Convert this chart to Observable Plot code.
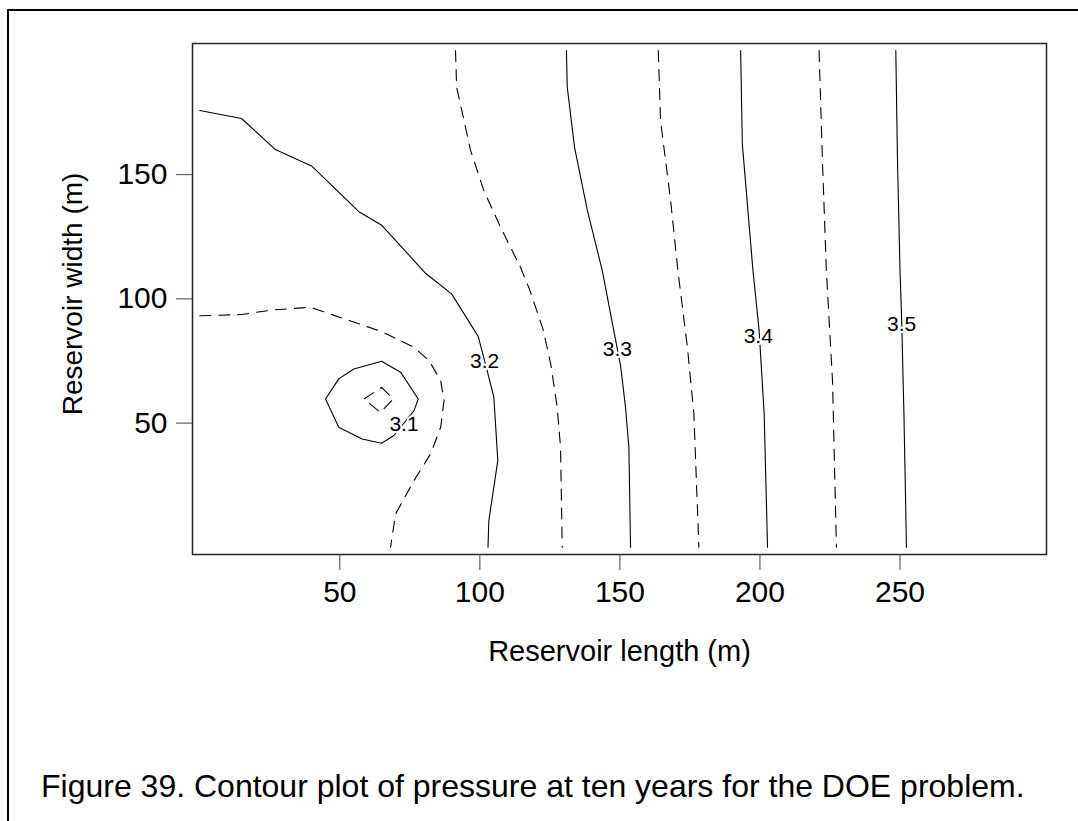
<!DOCTYPE html>
<html><head><meta charset="utf-8">
<script src="https://cdn.jsdelivr.net/npm/d3@7"></script>
<script src="https://cdn.jsdelivr.net/npm/@observablehq/plot@0.6"></script>
<style>
body{margin:0;background:#fff;font-family:"Liberation Sans",Arial,Helvetica,sans-serif;}
#page{position:relative;width:1078px;height:821px;overflow:hidden;background:#fff;}
#border{position:absolute;left:7px;top:9px;width:1200px;height:1000px;border-left:2px solid #000;border-top:2px solid #000;}
#chart{position:absolute;left:0;top:0;}
#caption{position:absolute;left:41px;top:770px;font-size:32px;line-height:32px;white-space:nowrap;color:#000;}
</style></head>
<body>
<div id="page">
  <div id="border"></div>
  <div id="chart"></div>
  <div id="caption">Figure 39. Contour plot of pressure at ten years for the DOE problem.</div>
</div>
<script>
// Contour levels (pressure) and their polylines [length (m), width (m)]
const levels = ["3.05","3.1","3.15","3.2","3.25","3.3","3.35","3.4","3.45","3.5"];
const dashedLevels = ["3.05","3.15","3.25","3.35","3.45"];

const c305 = [[64.9,64.4],[69.1,59.7],[64.5,54.3],[58.6,59.7],[64.9,64.4]];
const c310 = [[64.9,74.9],[71.7,70.5],[78.0,59.7],[76.5,55.0],[69.3,45.0],[64.9,41.9],[58.0,43.6],[49.6,48.3],[44.9,59.7],[49.6,67.8],[55.0,71.8],[64.9,74.9]];
const c315 = [[0,93.2],[14.9,93.7],[26.4,95.6],[39.5,96.6],[64.5,87.0],[76.5,80.5],[81.8,75.2],[86.0,67.1],[87.2,59.1],[86.0,48.3],[82.4,37.6],[76.5,26.9],[69.9,13.4],[68.1,0]];
const c320 = [[0,175.8],[14.9,172.6],[27.0,160.1],[39.9,153.5],[56.8,135.1],[65.0,129.6],[80.6,110.3],[89.9,102.0],[99.4,84.9],[102.6,71.1],[105.0,60.4],[106.4,34.9],[103.2,10.7],[102.9,0]];
const c325 = [[91.3,200],[91.7,185.2],[96.7,159.7],[101.4,143.6],[107.4,128.8],[114.5,112.7],[117.5,104.5],[122.5,88],[125.3,73.8],[127.6,56.4],[128.8,40.3],[129.4,0]];
const c330 = [[130.9,200],[131.2,185.2],[133.8,161.0],[138.4,135.5],[143.7,111.4],[148.5,83.2],[150.3,72.5],[152.0,56.4],[153.2,40.3],[153.8,0]];
const c335 = [[163.7,200],[164.5,171.8],[168.1,139.6],[170.7,111.4],[174.1,80.5],[176.4,53.7],[178.2,0]];
const c340 = [[193.1,200],[193.7,162.4],[197.5,111.4],[199.7,87.2],[201.5,53.7],[202.7,0]];
const c345 = [[221.1,200],[222.3,155.7],[223.7,111.4],[225.9,67.1],[227.3,0]];
const c350 = [[248.5,200],[249.1,155.7],[250.0,111.4],[250.6,91.3],[251.4,53.7],[252.3,0]];
const paths = [c305,c310,c315,c320,c325,c330,c335,c340,c345,c350];

// Contour labels
const labelText = ["3.1","3.2","3.3","3.4","3.5"];
const labelX = [72.9,101.7,149.1,199.4,250.6];
const labelY = [49.4,74.8,79.6,84.8,89.7];

// Axis ticks
const xTicks = [50,100,150,200,250];
const yTicks = [50,100,150];
const xTitle = "Reservoir length (m)";
const yTitle = "Reservoir width (m)";

const rows = [];
levels.forEach((lv, i) => paths[i].forEach(([x, y]) => rows.push({level: lv, x, y, dashed: dashedLevels.includes(lv)})));
const labels = labelText.map((t, i) => ({t, x: labelX[i], y: labelY[i]}));

const chart = Plot.plot({
  width: 1078,
  height: 700,
  marginLeft: 192,
  marginRight: 32,
  marginTop: 43,
  marginBottom: 146,
  style: {fontFamily: "'Liberation Sans', Arial, Helvetica, sans-serif", fontSize: "30px", color: "#000", background: "transparent"},
  x: {domain: [-2.6, 302.3]},
  y: {domain: [-2.9, 202.8]},
  marks: [
    Plot.line(rows.filter(d => !d.dashed), {x: "x", y: "y", z: "level", stroke: "#000", strokeWidth: 1.1}),
    Plot.line(rows.filter(d => d.dashed), {x: "x", y: "y", z: "level", stroke: "#000", strokeWidth: 1.1, strokeDasharray: "11,8"}),
    Plot.text(labels, {x: "x", y: "y", text: "t", fontSize: 21, fill: "#000", stroke: "#fff", strokeWidth: 4}),
    Plot.frame({stroke: "#222", strokeWidth: 1.5}),
    Plot.axisX({ticks: xTicks, tickSize: 16, tickPadding: 10, label: null, stroke: "#444", fontSize: 30}),
    Plot.axisY({ticks: yTicks, tickSize: 16, tickPadding: 9, label: null, stroke: "#444", fontSize: 30}),
    Plot.text([xTitle], {text: d => d, frameAnchor: "bottom", textAnchor: "middle", lineAnchor: "top", dy: 86, fontSize: 29, fill: "#000"}),
    Plot.text([yTitle], {text: d => d, frameAnchor: "left", textAnchor: "middle", lineAnchor: "middle", rotate: -90, dx: -119, dy: -5, fontSize: 28, fill: "#000"})
  ]
});
document.getElementById("chart").appendChild(chart);
</script>
</body></html>
